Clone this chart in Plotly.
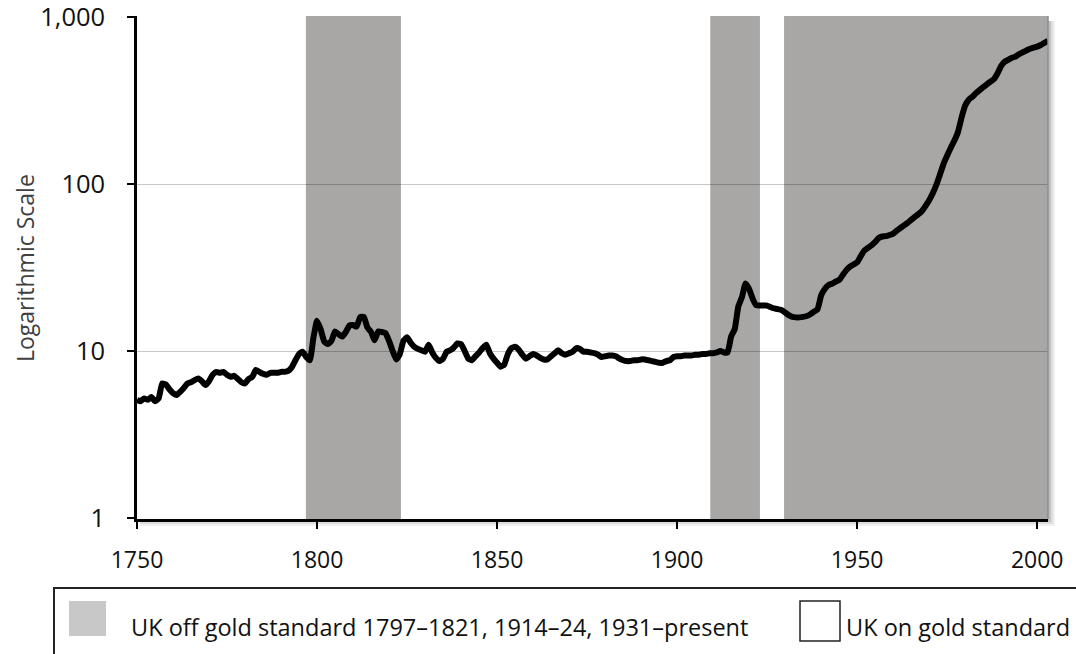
import plotly.graph_objects as go

years = list(range(1750, 2004))
values = [
    5.1, 5.0, 5.2, 5.1, 5.3, 5.0, 5.2, 6.4, 6.3, 5.9,      # 1750-1759
    5.6, 5.45, 5.7, 6.0, 6.4, 6.5, 6.7, 6.85, 6.6, 6.25,  # 1760-1769
    6.6, 7.2, 7.5, 7.4, 7.5, 7.2, 7.0, 7.1, 6.8, 6.5,     # 1770-1779
    6.4, 6.8, 7.0, 7.7, 7.5, 7.3, 7.2, 7.4, 7.4, 7.4,     # 1780-1789
    7.5, 7.5, 7.6, 8.0, 8.8, 9.6, 9.9, 9.2, 8.8, 12.0,    # 1790-1799
    15.2, 13.5, 11.4, 11.0, 11.5, 13.1, 12.6, 12.2, 13.0, 14.2,  # 1800-1809
    14.3, 14.0, 16.0, 16.0, 13.8, 13.0, 11.6, 13.1, 13.0, 12.8,  # 1810-1819
    11.5, 10.0, 8.9, 9.6, 11.5, 12.1, 11.2, 10.6, 10.3, 10.1,    # 1820-1829
    9.9, 10.9, 9.8, 9.1, 8.7, 9.0, 9.9, 10.1, 10.5, 11.1,        # 1830-1839
    11.0, 10.0, 9.0, 8.8, 9.3, 9.8, 10.4, 10.9, 9.7, 9.0,        # 1840-1849
    8.5, 8.05, 8.3, 9.6, 10.4, 10.6, 10.2, 9.5, 9.0, 9.3,        # 1850-1859
    9.6, 9.4, 9.1, 8.9, 8.9, 9.3, 9.7, 10.1, 9.7, 9.5,           # 1860-1869
    9.7, 9.9, 10.4, 10.3, 9.9, 9.9, 9.8, 9.7, 9.5, 9.2,          # 1870-1879
    9.3, 9.4, 9.4, 9.3, 9.0, 8.8, 8.7, 8.7, 8.8, 8.8,            # 1880-1889
    8.9, 8.9, 8.8, 8.7, 8.6, 8.5, 8.5, 8.7, 8.8, 9.2,            # 1890-1899
    9.3, 9.3, 9.4, 9.4, 9.4, 9.5, 9.5, 9.6, 9.6, 9.7,            # 1900-1909
    9.7, 9.8, 10.0, 9.8, 9.8, 12.2, 13.5, 18.5, 21.0, 25.4,      # 1910-1919
    23.5, 20.5, 18.8, 18.7, 18.7, 18.7, 18.3, 18.0, 17.8, 17.6,  # 1920-1929
    17.0, 16.4, 16.0, 15.9, 15.9, 16.0, 16.2, 16.6, 17.2, 17.8,  # 1930-1939
    21.5, 23.5, 24.8, 25.3, 26.0, 26.6, 28.5, 30.5, 32.0, 33.0,  # 1940-1949
    34.0, 37.0, 40.0, 41.5, 43.0, 45.0, 47.5, 48.5, 48.7, 49.5,  # 1950-1959
    50.5, 52.5, 54.5, 56.5, 58.5, 61.0, 63.5, 66.0, 69.0, 74.0,  # 1960-1969
    80.0, 88.0, 99.0, 114.0, 132.0, 148.0, 165.0, 182.0, 205.0, 250.0,  # 1970-1979
    295.0, 320.0, 333.0, 350.0, 365.0, 380.0, 395.0, 410.0, 425.0, 460.0,  # 1980-1989
    510.0, 540.0, 555.0, 570.0, 580.0, 600.0, 615.0, 630.0, 645.0, 655.0,  # 1990-1999
    665.0, 680.0, 700.0, 720.0,                                   # 2000-2003
]

off_gold_start = [1796.9, 1909.2, 1929.7]
off_gold_end = [1823.3, 1923.0, 2003.0]

x_ticks = [1750, 1800, 1850, 1900, 1950, 2000]
y_ticks = [1, 10, 100, 1000]
y_tick_labels = ["1", "10", "100", "1,000"]

legend_off = "UK off gold standard 1797\u20131821, 1914\u201324, 1931\u2013present"
legend_on = "UK on gold standard"
y_title = "Logarithmic Scale"

W, H = 1076, 654
L, R, T, B = 137, 28, 16, 135
pw, ph = W - L - R, H - T - B


def px(xs):
    return (xs - L) / pw


def py(ys):
    return (H - B - ys) / ph


fig = go.Figure()

fig.add_trace(go.Scatter(
    x=years, y=values, mode="lines",
    line=dict(color="black", width=6, shape="spline", smoothing=0.4),
    showlegend=False, hoverinfo="skip",
))

shapes = []
# drop shadow of the plot area
for off, op in [(7, 0.06), (5, 0.08), (3, 0.12)]:
    shapes.append(dict(type="rect", xref="paper", yref="paper",
                       x0=px(140), x1=px(1048 + off), y0=py(519 + off), y1=py(21),
                       fillcolor=f"rgba(0,0,0,{op})", line=dict(width=0), layer="below"))
shapes.append(dict(type="rect", xref="paper", yref="paper", x0=0, x1=1, y0=0, y1=1,
                   fillcolor="white", line=dict(width=0), layer="below"))
for s, e in zip(off_gold_start, off_gold_end):
    shapes.append(dict(type="rect", xref="x", yref="paper", x0=s, x1=e, y0=0, y1=1,
                       fillcolor="#a8a7a5", line=dict(width=0), layer="below"))
# right border of plot
shapes.append(dict(type="line", xref="paper", yref="paper", x0=1, x1=1, y0=0, y1=1,
                   line=dict(color="#8c8c8c", width=1.5)))
# legend box
shapes.append(dict(type="rect", xref="paper", yref="paper",
                   x0=px(54), x1=px(1090), y0=py(670), y1=py(588),
                   fillcolor="rgba(0,0,0,0)", line=dict(color="#222222", width=2)))
shapes.append(dict(type="rect", xref="paper", yref="paper",
                   x0=px(69), x1=px(106), y0=py(636), y1=py(601),
                   fillcolor="#c8c8c8", line=dict(width=0)))
shapes.append(dict(type="rect", xref="paper", yref="paper",
                   x0=px(800), x1=px(840), y0=py(641), y1=py(601),
                   fillcolor="white", line=dict(color="#222222", width=1.5)))

annotations = [
    dict(text=legend_off, xref="paper", yref="paper", x=px(129), y=py(627),
         xanchor="left", yanchor="middle", showarrow=False,
         font=dict(family="Open Sans", size=23.5, color="#111111")),
    dict(text=legend_on, xref="paper", yref="paper", x=px(844), y=py(627),
         xanchor="left", yanchor="middle", showarrow=False,
         font=dict(family="Open Sans", size=23.5, color="#111111")),
    dict(text=y_title, xref="paper", yref="paper", x=px(25), y=py(268),
         xanchor="center", yanchor="middle", showarrow=False, textangle=-90,
         font=dict(family="Open Sans", size=23, color="#404040")),
]

fig.update_layout(
    width=W, height=H,
    margin=dict(l=L, r=R, t=T, b=B, pad=0),
    paper_bgcolor="white", plot_bgcolor="rgba(0,0,0,0)",
    shapes=shapes, annotations=annotations,
    font=dict(family="Open Sans", color="#111111"),
    xaxis=dict(range=[1750, 2003], tickvals=x_ticks, ticks="outside", ticklen=7,
               tickwidth=2, tickcolor="black", showline=True, linecolor="black",
               linewidth=2.5, showgrid=False, zeroline=False, automargin=False,
               tickfont=dict(size=23, color="#111111"), ticklabelstandoff=12,
               ticklabeloverflow="allow"),
    yaxis=dict(type="log", range=[-0.006, 3.006], tickvals=y_ticks, ticktext=y_tick_labels,
               ticks="outside", ticklen=7, tickwidth=2, tickcolor="black",
               showline=True, linecolor="black", linewidth=2.5,
               showgrid=True, gridcolor="rgba(0,0,0,0.22)", gridwidth=1,
               zeroline=False, automargin=False, tickfont=dict(size=25.5, color="#111111"),
               ticklabelstandoff=17, ticklabeloverflow="allow"),
)

fig.write_html("out.html", config={"displayModeBar": False},
               post_script="document.body.style.margin='0';")
